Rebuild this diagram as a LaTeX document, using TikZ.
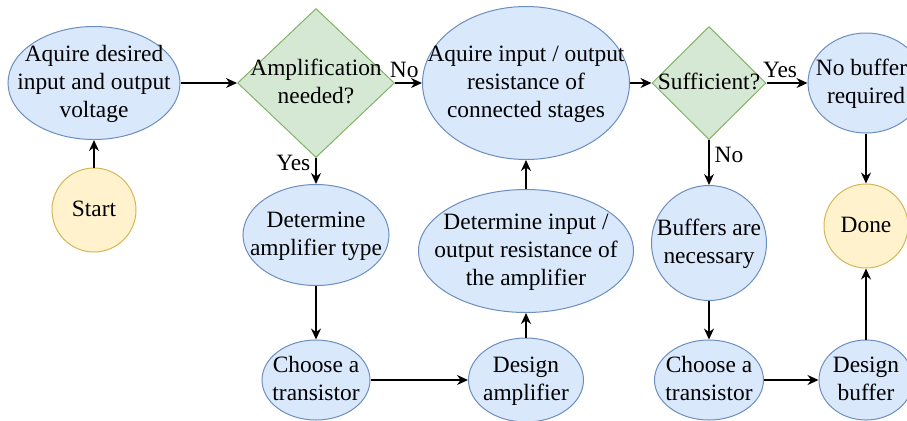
\documentclass[tikz,border=0pt]{standalone}
\usepackage{fontspec}
\setmainfont{LiberationSerif}[Extension=.ttf,UprightFont=*-Regular,BoldFont=*-Bold]
\usetikzlibrary{arrows.meta,shapes.geometric}

\definecolor{stagefill}{HTML}{DAE8FC}
\definecolor{stageline}{HTML}{6C8EBF}
\definecolor{askfill}{HTML}{D5E8D4}
\definecolor{askline}{HTML}{82B366}
\definecolor{endfill}{HTML}{FFF2CC}
\definecolor{endline}{HTML}{D6B656}

\tikzset{
    >={Stealth[length=5.5pt,width=5pt]},
    every picture/.style={line width=0.5pt},
    stage/.style={ellipse,draw=stageline,fill=stagefill,inner sep=0pt},
    ask/.style={diamond,draw=askline,fill=askfill,inner sep=0pt},
    terminal/.style={circle,draw=endline,fill=endfill,inner sep=0pt,minimum size=42pt},
    flow/.style={->,line width=0.7pt},
    answer/.style={inner sep=2.5pt}
}
% text of fixed size shapes, kept out of the shape's size
\newcommand{\stagetext}[1]{\makebox[0pt]{\raisebox{-3.5pt}[0pt][0pt]{\begin{tabular}{@{}c@{}}#1\end{tabular}}}}

\begin{document}
\begin{tikzpicture}[x=0.5pt,y=-0.5pt,
        every node/.style={font=\fontsize{11.7}{14}\selectfont}]
    \clip (0,0) rectangle (907,420);

    % Amplifier stage
    \node[terminal] (start) at (94,210) {\stagetext{Start}};
    \node[stage,minimum width=86pt,minimum height=56.5pt] (voltage) at (94,83)
        {\stagetext{Aquire desired\\input and output\\voltage}};
    \node[ask,minimum width=78.5pt,minimum height=74.5pt] (amplify) at (316,83)
        {\stagetext{Amplification\\needed?}};
    \node[stage,minimum width=73pt,minimum height=50.5pt] (amptype) at (316,235)
        {\stagetext{Determine\\amplifier type}};
    \node[stage,minimum width=54pt,minimum height=40pt] (transamp) at (316,380)
        {\stagetext{Choose a\\transistor}};
    \node[stage,minimum width=57.5pt,minimum height=42pt] (design) at (526,380)
        {\stagetext{Design\\amplifier}};
    \node[stage,minimum width=107.5pt,minimum height=61.5pt] (ampres) at (526,251)
        {\stagetext{Determine input /\\output resistance of\\the amplifier}};
    \node[stage,minimum width=103.5pt,minimum height=76.5pt] (resist) at (526,83)
        {\stagetext{Aquire input / output\\resistance of\\connected stages}};

    % Buffer stage
    \node[ask,minimum width=57pt,minimum height=56.5pt] (enough) at (709,83)
        {\stagetext{Sufficient?}};
    \node[stage,minimum width=58pt,minimum height=50pt] (nobuffer) at (866,83)
        {\stagetext{No buffers\\required}};
    \node[stage,minimum width=57.5pt,minimum height=57.5pt] (needed) at (709,243)
        {\stagetext{Buffers are\\necessary}};
    \node[stage,minimum width=54.5pt,minimum height=40pt] (transbuf) at (709,380)
        {\stagetext{Choose a\\transistor}};
    \node[stage,minimum width=47pt,minimum height=40pt] (buffer) at (866,380)
        {\stagetext{Design\\buffer}};
    \node[terminal] (done) at (866,226) {\stagetext{Done}};

    \draw[flow] (start) -- (voltage);
    \draw[flow] (voltage) -- (amplify);
    \draw[flow] (amplify) -- node[answer,pos=0.34,above] {No} (resist);
    \draw[flow] (amplify) -- node[answer,pos=0.2,left] {Yes} (amptype);
    \draw[flow] (amptype) -- (transamp);
    \draw[flow] (transamp) -- (design);
    \draw[flow] (design) -- (ampres);
    \draw[flow] (ampres) -- (resist);
    \draw[flow] (resist) -- (enough);
    \draw[flow] (enough) -- node[answer,pos=0.33,above] {Yes} (nobuffer);
    \draw[flow] (enough) -- node[answer,pos=0.33,right] {No} (needed);
    \draw[flow] (needed) -- (transbuf);
    \draw[flow] (transbuf) -- (buffer);
    \draw[flow] (buffer) -- (done);
    \draw[flow] (nobuffer) -- (done);
\end{tikzpicture}
\end{document}
